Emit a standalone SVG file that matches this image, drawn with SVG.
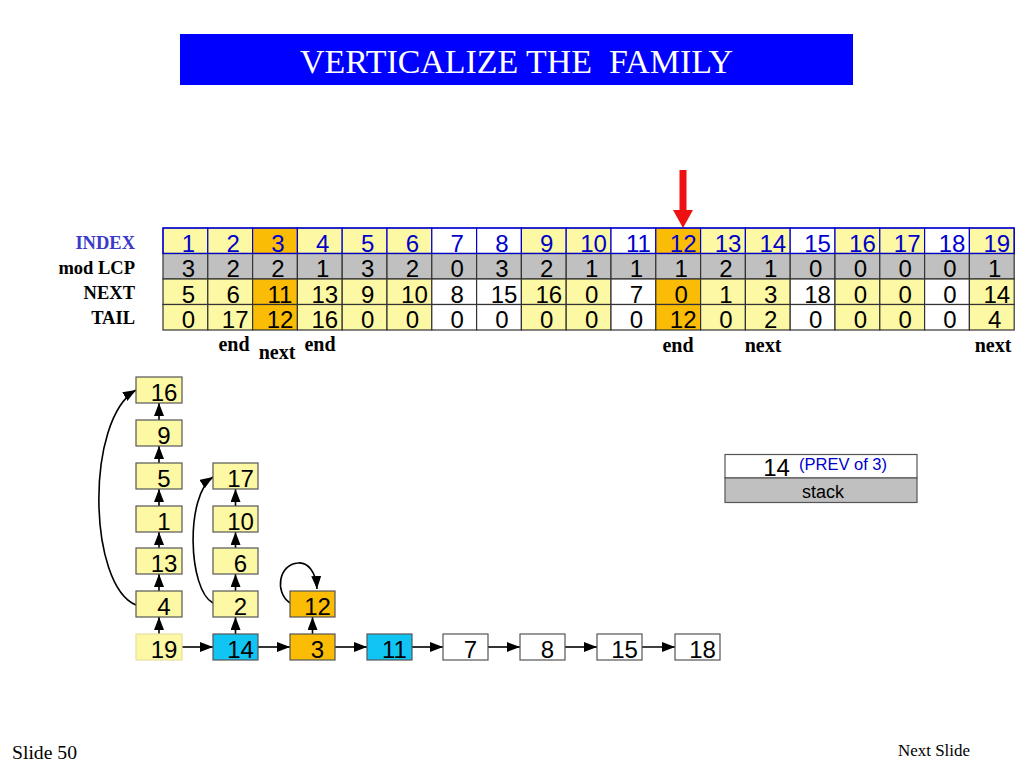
<svg xmlns="http://www.w3.org/2000/svg" width="1024" height="768" viewBox="0 0 1024 768">
<style>
.y{fill:#fdf8a3}
.o{fill:#fbbc05}
.w{fill:#ffffff}
.g{fill:#c0c0c0}
.c{fill:#10c4f4}
.bi{stroke:#0000cc;stroke-width:1.2}
.bd{stroke:#333333;stroke-width:1.2}
.num{font-family:"Liberation Sans",Arial,sans-serif;font-size:24px;text-anchor:middle;fill:#000}
.blue{fill:#0000cc}
.lab{font-family:"Liberation Serif","Times New Roman",serif;font-weight:bold;font-size:18.5px;text-anchor:end;fill:#000}
.ann{font-family:"Liberation Serif","Times New Roman",serif;font-weight:bold;font-size:20px;text-anchor:middle;fill:#000}
.node rect{stroke:#555555;stroke-width:1.2}
.node text{font-family:"Liberation Sans",Arial,sans-serif;font-size:24px;text-anchor:middle;fill:#000}
.conn path{fill:none;stroke:#000;stroke-width:1.6}
</style>
<defs>
<marker id="ah" viewBox="0 0 13 10" refX="13" refY="5" markerWidth="13" markerHeight="10" markerUnits="userSpaceOnUse" orient="auto">
<path d="M0,0 L13,5 L0,10 z" fill="#000"/>
</marker>
</defs>

<g id="title">
<rect x="180" y="34" width="673" height="51" fill="#0000ff"/>
<text x="300" y="73" textLength="433" lengthAdjust="spacingAndGlyphs" xml:space="preserve" font-family="Liberation Serif,'Times New Roman',serif" font-size="34" fill="#ffffff">VERTICALIZE THE  FAMILY</text>
</g>

<g id="pointer">
<rect x="679.5" y="170" width="7" height="42" fill="#ee1111"/>
<path d="M673,210 L693,210 L683,228 z" fill="#ee1111"/>
</g>

<g id="table">
<text class="lab" x="135" y="249" style="fill:#3a3ac8">INDEX</text>
<text class="lab" x="135" y="274">mod LCP</text>
<text class="lab" x="135" y="299">NEXT</text>
<text class="lab" x="135" y="324">TAIL</text>

<g id="row-index" class="bi">
<rect class="y" x="163" y="228" width="44.8" height="25.5"/>
<rect class="y" x="207.8" y="228" width="44.8" height="25.5"/>
<rect class="o" x="252.6" y="228" width="44.8" height="25.5"/>
<rect class="y" x="297.4" y="228" width="44.8" height="25.5"/>
<rect class="y" x="342.2" y="228" width="44.8" height="25.5"/>
<rect class="y" x="387" y="228" width="44.8" height="25.5"/>
<rect class="w" x="431.8" y="228" width="44.8" height="25.5"/>
<rect class="w" x="476.6" y="228" width="44.8" height="25.5"/>
<rect class="y" x="521.4" y="228" width="44.8" height="25.5"/>
<rect class="y" x="566.2" y="228" width="44.8" height="25.5"/>
<rect class="w" x="611" y="228" width="44.8" height="25.5"/>
<rect class="o" x="655.8" y="228" width="44.8" height="25.5"/>
<rect class="y" x="700.6" y="228" width="44.8" height="25.5"/>
<rect class="y" x="745.4" y="228" width="44.8" height="25.5"/>
<rect class="w" x="790.2" y="228" width="44.8" height="25.5"/>
<rect class="y" x="835" y="228" width="44.8" height="25.5"/>
<rect class="y" x="879.8" y="228" width="44.8" height="25.5"/>
<rect class="w" x="924.6" y="228" width="44.8" height="25.5"/>
<rect class="y" x="969.4" y="228" width="44.8" height="25.5"/>
</g>
<g id="row-lcp" class="bd">
<rect class="g" x="163" y="253.5" width="44.8" height="25.5"/>
<rect class="g" x="207.8" y="253.5" width="44.8" height="25.5"/>
<rect class="g" x="252.6" y="253.5" width="44.8" height="25.5"/>
<rect class="g" x="297.4" y="253.5" width="44.8" height="25.5"/>
<rect class="g" x="342.2" y="253.5" width="44.8" height="25.5"/>
<rect class="g" x="387" y="253.5" width="44.8" height="25.5"/>
<rect class="g" x="431.8" y="253.5" width="44.8" height="25.5"/>
<rect class="g" x="476.6" y="253.5" width="44.8" height="25.5"/>
<rect class="g" x="521.4" y="253.5" width="44.8" height="25.5"/>
<rect class="g" x="566.2" y="253.5" width="44.8" height="25.5"/>
<rect class="g" x="611" y="253.5" width="44.8" height="25.5"/>
<rect class="g" x="655.8" y="253.5" width="44.8" height="25.5"/>
<rect class="g" x="700.6" y="253.5" width="44.8" height="25.5"/>
<rect class="g" x="745.4" y="253.5" width="44.8" height="25.5"/>
<rect class="g" x="790.2" y="253.5" width="44.8" height="25.5"/>
<rect class="g" x="835" y="253.5" width="44.8" height="25.5"/>
<rect class="g" x="879.8" y="253.5" width="44.8" height="25.5"/>
<rect class="g" x="924.6" y="253.5" width="44.8" height="25.5"/>
<rect class="g" x="969.4" y="253.5" width="44.8" height="25.5"/>
</g>
<g id="row-next" class="bd">
<rect class="y" x="163" y="279" width="44.8" height="25.5"/>
<rect class="y" x="207.8" y="279" width="44.8" height="25.5"/>
<rect class="o" x="252.6" y="279" width="44.8" height="25.5"/>
<rect class="y" x="297.4" y="279" width="44.8" height="25.5"/>
<rect class="y" x="342.2" y="279" width="44.8" height="25.5"/>
<rect class="y" x="387" y="279" width="44.8" height="25.5"/>
<rect class="w" x="431.8" y="279" width="44.8" height="25.5"/>
<rect class="w" x="476.6" y="279" width="44.8" height="25.5"/>
<rect class="y" x="521.4" y="279" width="44.8" height="25.5"/>
<rect class="y" x="566.2" y="279" width="44.8" height="25.5"/>
<rect class="w" x="611" y="279" width="44.8" height="25.5"/>
<rect class="o" x="655.8" y="279" width="44.8" height="25.5"/>
<rect class="y" x="700.6" y="279" width="44.8" height="25.5"/>
<rect class="y" x="745.4" y="279" width="44.8" height="25.5"/>
<rect class="w" x="790.2" y="279" width="44.8" height="25.5"/>
<rect class="y" x="835" y="279" width="44.8" height="25.5"/>
<rect class="y" x="879.8" y="279" width="44.8" height="25.5"/>
<rect class="w" x="924.6" y="279" width="44.8" height="25.5"/>
<rect class="y" x="969.4" y="279" width="44.8" height="25.5"/>
</g>
<g id="row-tail" class="bd">
<rect class="y" x="163" y="304.5" width="44.8" height="25.5"/>
<rect class="y" x="207.8" y="304.5" width="44.8" height="25.5"/>
<rect class="o" x="252.6" y="304.5" width="44.8" height="25.5"/>
<rect class="y" x="297.4" y="304.5" width="44.8" height="25.5"/>
<rect class="y" x="342.2" y="304.5" width="44.8" height="25.5"/>
<rect class="y" x="387" y="304.5" width="44.8" height="25.5"/>
<rect class="w" x="431.8" y="304.5" width="44.8" height="25.5"/>
<rect class="w" x="476.6" y="304.5" width="44.8" height="25.5"/>
<rect class="y" x="521.4" y="304.5" width="44.8" height="25.5"/>
<rect class="y" x="566.2" y="304.5" width="44.8" height="25.5"/>
<rect class="w" x="611" y="304.5" width="44.8" height="25.5"/>
<rect class="o" x="655.8" y="304.5" width="44.8" height="25.5"/>
<rect class="y" x="700.6" y="304.5" width="44.8" height="25.5"/>
<rect class="y" x="745.4" y="304.5" width="44.8" height="25.5"/>
<rect class="w" x="790.2" y="304.5" width="44.8" height="25.5"/>
<rect class="y" x="835" y="304.5" width="44.8" height="25.5"/>
<rect class="y" x="879.8" y="304.5" width="44.8" height="25.5"/>
<rect class="w" x="924.6" y="304.5" width="44.8" height="25.5"/>
<rect class="y" x="969.4" y="304.5" width="44.8" height="25.5"/>
</g>
<rect x="163" y="228" width="851.2" height="25.5" fill="none" stroke="#0000cc" stroke-width="1.2"/>

<g class="num blue">
<text x="188.4" y="251.5">1</text><text x="233.2" y="251.5">2</text><text x="278" y="251.5">3</text><text x="322.8" y="251.5">4</text><text x="367.6" y="251.5">5</text><text x="412.4" y="251.5">6</text><text x="457.2" y="251.5">7</text><text x="502" y="251.5">8</text><text x="546.8" y="251.5">9</text><text x="593.6" y="251.5">10</text><text x="638.4" y="251.5">11</text><text x="683.2" y="251.5">12</text><text x="728" y="251.5">13</text><text x="772.8" y="251.5">14</text><text x="817.6" y="251.5">15</text><text x="862.4" y="251.5">16</text><text x="907.2" y="251.5">17</text><text x="952" y="251.5">18</text><text x="996.8" y="251.5">19</text>
</g>
<g class="num">
<text x="188.4" y="277">3</text><text x="233.2" y="277">2</text><text x="278" y="277">2</text><text x="322.8" y="277">1</text><text x="367.6" y="277">3</text><text x="412.4" y="277">2</text><text x="457.2" y="277">0</text><text x="502" y="277">3</text><text x="546.8" y="277">2</text><text x="591.6" y="277">1</text><text x="636.4" y="277">1</text><text x="681.2" y="277">1</text><text x="726" y="277">2</text><text x="770.8" y="277">1</text><text x="815.6" y="277">0</text><text x="860.4" y="277">0</text><text x="905.2" y="277">0</text><text x="950" y="277">0</text><text x="994.8" y="277">1</text>
</g>
<g class="num">
<text x="188.4" y="302.5">5</text><text x="233.2" y="302.5">6</text><text x="280" y="302.5">11</text><text x="324.8" y="302.5">13</text><text x="367.6" y="302.5">9</text><text x="414.4" y="302.5">10</text><text x="457.2" y="302.5">8</text><text x="504" y="302.5">15</text><text x="548.8" y="302.5">16</text><text x="591.6" y="302.5">0</text><text x="636.4" y="302.5">7</text><text x="681.2" y="302.5">0</text><text x="726" y="302.5">1</text><text x="770.8" y="302.5">3</text><text x="817.6" y="302.5">18</text><text x="860.4" y="302.5">0</text><text x="905.2" y="302.5">0</text><text x="950" y="302.5">0</text><text x="996.8" y="302.5">14</text>
</g>
<g class="num">
<text x="188.4" y="328">0</text><text x="235.2" y="328">17</text><text x="280" y="328">12</text><text x="324.8" y="328">16</text><text x="367.6" y="328">0</text><text x="412.4" y="328">0</text><text x="457.2" y="328">0</text><text x="502" y="328">0</text><text x="546.8" y="328">0</text><text x="591.6" y="328">0</text><text x="636.4" y="328">0</text><text x="683.2" y="328">12</text><text x="726" y="328">0</text><text x="770.8" y="328">2</text><text x="815.6" y="328">0</text><text x="860.4" y="328">0</text><text x="905.2" y="328">0</text><text x="950" y="328">0</text><text x="994.8" y="328">4</text>
</g>

<g id="annotations" class="ann">
<text x="234" y="351">end</text>
<text x="277" y="359">next</text>
<text x="320" y="351">end</text>
<text x="678" y="352">end</text>
<text x="763" y="352">next</text>
<text x="993" y="352">next</text>
</g>
</g>

<g id="connectors" class="conn">
<path d="M159,634 L159,617" marker-end="url(#ah)"/>
<path d="M159,591 L159,574" marker-end="url(#ah)"/>
<path d="M159,548 L159,532" marker-end="url(#ah)"/>
<path d="M159,506 L159,489" marker-end="url(#ah)"/>
<path d="M159,463 L159,446" marker-end="url(#ah)"/>
<path d="M159,420 L159,403" marker-end="url(#ah)"/>
<path d="M235.5,634 L235.5,617" marker-end="url(#ah)"/>
<path d="M235.5,591 L235.5,574" marker-end="url(#ah)"/>
<path d="M235.5,548 L235.5,532" marker-end="url(#ah)"/>
<path d="M235.5,506 L235.5,489" marker-end="url(#ah)"/>
<path d="M312.5,634 L312.5,617" marker-end="url(#ah)"/>
<path d="M182,647 L213,647" marker-end="url(#ah)"/>
<path d="M258,647 L290,647" marker-end="url(#ah)"/>
<path d="M335,647 L367,647" marker-end="url(#ah)"/>
<path d="M412,647 L443,647" marker-end="url(#ah)"/>
<path d="M488,647 L520,647" marker-end="url(#ah)"/>
<path d="M565,647 L597,647" marker-end="url(#ah)"/>
<path d="M642,647 L675,647" marker-end="url(#ah)"/>
<path d="M136,605 C88,585 85,420 136,390" marker-end="url(#ah)"/>
<path d="M213,603 C188,590 185,495 213,477" marker-end="url(#ah)"/>
<path d="M290,603 C274,592 279,564 298,563 C308,562 316,572 317,589" marker-end="url(#ah)"/>
</g>

<g id="n16" class="node"><rect class="y" x="136" y="377" width="46" height="26"/><text x="164" y="401">16</text></g>
<g id="n9" class="node"><rect class="y" x="136" y="420" width="46" height="26"/><text x="164" y="444">9</text></g>
<g id="n5" class="node"><rect class="y" x="136" y="463" width="46" height="26"/><text x="164" y="487">5</text></g>
<g id="n1" class="node"><rect class="y" x="136" y="506" width="46" height="26"/><text x="164" y="530">1</text></g>
<g id="n13" class="node"><rect class="y" x="136" y="548" width="46" height="26"/><text x="164" y="572">13</text></g>
<g id="n4" class="node"><rect class="y" x="136" y="591" width="46" height="26"/><text x="164" y="615">4</text></g>
<g id="n19" class="node"><rect class="y" x="136" y="634" width="46" height="26" style="stroke:#e8e0a0"/><text x="164" y="658">19</text></g>
<g id="n17" class="node"><rect class="y" x="213" y="463" width="45" height="26"/><text x="240.5" y="487">17</text></g>
<g id="n10" class="node"><rect class="y" x="213" y="506" width="45" height="26"/><text x="240.5" y="530">10</text></g>
<g id="n6" class="node"><rect class="y" x="213" y="548" width="45" height="26"/><text x="240.5" y="572">6</text></g>
<g id="n2" class="node"><rect class="y" x="213" y="591" width="45" height="26"/><text x="240.5" y="615">2</text></g>
<g id="n14" class="node"><rect class="c" x="213" y="634" width="45" height="26"/><text x="240.5" y="658">14</text></g>
<g id="n12" class="node"><rect class="o" x="290" y="591" width="45" height="26"/><text x="317.5" y="615">12</text></g>
<g id="n3" class="node"><rect class="o" x="290" y="634" width="45" height="26"/><text x="317.5" y="658">3</text></g>
<g id="n11" class="node"><rect class="c" x="367" y="634" width="45" height="26"/><text x="394.5" y="658">11</text></g>
<g id="n7" class="node"><rect class="w" x="443" y="634" width="45" height="26"/><text x="470.5" y="658">7</text></g>
<g id="n8" class="node"><rect class="w" x="520" y="634" width="45" height="26"/><text x="547.5" y="658">8</text></g>
<g id="n15" class="node"><rect class="w" x="597" y="634" width="45" height="26"/><text x="624.5" y="658">15</text></g>
<g id="n18" class="node"><rect class="w" x="675" y="634" width="45" height="26"/><text x="702.5" y="658">18</text></g>

<g id="stack">
<rect class="w" x="725" y="454.5" width="192" height="23.5" stroke="#555" stroke-width="1.2"/>
<rect class="g" x="725" y="478" width="192" height="24.5" stroke="#555" stroke-width="1.2"/>
<text x="776.5" y="475.5" font-family="Liberation Sans,Arial,sans-serif" font-size="24" text-anchor="middle" fill="#000">14</text>
<text x="799" y="470" font-family="Liberation Sans,Arial,sans-serif" font-size="16.5" fill="#0000cc">(PREV of 3)</text>
<text x="823" y="498" font-family="Liberation Sans,Arial,sans-serif" font-size="18" text-anchor="middle" fill="#000">stack</text>
</g>

<g id="footer" font-family="Liberation Serif,'Times New Roman',serif" fill="#000">
<text x="12" y="759" font-size="18" textLength="65" lengthAdjust="spacingAndGlyphs">Slide 50</text>
<text x="898" y="756" font-size="16" textLength="72" lengthAdjust="spacingAndGlyphs">Next Slide</text>
</g>
</svg>
